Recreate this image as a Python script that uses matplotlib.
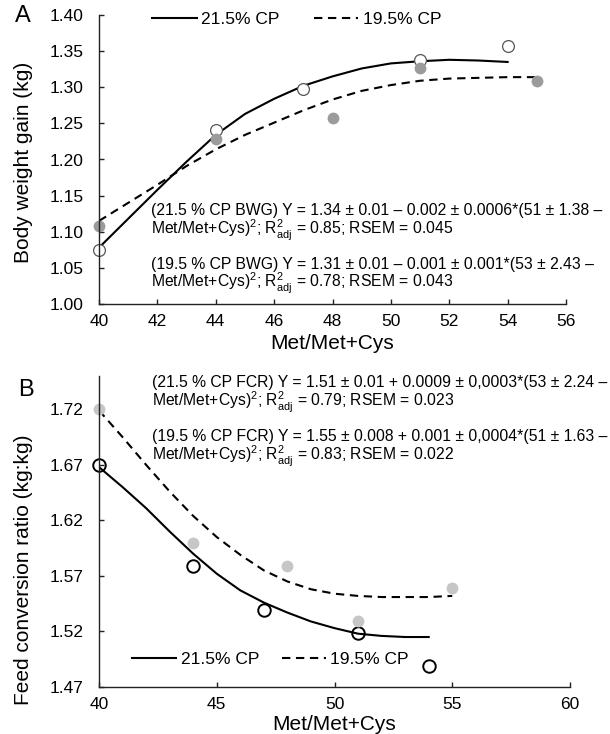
import matplotlib
matplotlib.use("Agg")
from matplotlib import pyplot as plt

plt.rcParams['font.family'] = ['Liberation Sans', 'DejaVu Sans']
plt.rcParams['mathtext.fontset'] = 'custom'
plt.rcParams['mathtext.rm'] = 'Liberation Sans'
plt.rcParams['mathtext.it'] = 'Liberation Sans:italic'

# Panel A - body weight gain
bwg_x_215 = [40, 44, 47, 51, 54]
bwg_y_215 = [1.075, 1.241, 1.297, 1.338, 1.357]
bwg_x_195 = [40, 44, 48, 51, 55]
bwg_y_195 = [1.108, 1.229, 1.258, 1.326, 1.308]
# fitted curves
bwg_fit_x_215 = [40, 41, 42, 43, 44, 45, 46, 47, 48, 49, 50, 51, 52, 53, 54]
bwg_fit_y_215 = [1.078, 1.118, 1.158, 1.197, 1.234, 1.263, 1.284, 1.302, 1.315,
                 1.326, 1.333, 1.336, 1.338, 1.337, 1.335]
bwg_fit_x_195 = [40, 41, 42, 43, 44, 45, 46, 47, 48, 49, 50, 51, 52, 53, 54, 55]
bwg_fit_y_195 = [1.115, 1.140, 1.165, 1.191, 1.214, 1.234, 1.251, 1.268, 1.283,
                 1.295, 1.303, 1.309, 1.312, 1.313, 1.314, 1.314]

# Panel B - feed conversion ratio
fcr_x_215 = [40, 44, 47, 51, 54]
fcr_y_215 = [1.670, 1.579, 1.539, 1.519, 1.489]
fcr_x_195 = [40, 44, 48, 51, 55]
fcr_y_195 = [1.720, 1.600, 1.579, 1.529, 1.559]
fcr_fit_x_215 = [40, 41, 42, 43, 44, 45, 46, 47, 48, 49, 50, 51, 52, 53, 54]
fcr_fit_y_215 = [1.668, 1.650, 1.631, 1.610, 1.590, 1.572, 1.557, 1.546, 1.537,
                 1.529, 1.523, 1.518, 1.516, 1.515, 1.515]
fcr_fit_x_195 = [40, 41, 42, 43, 44, 45, 46, 47, 48, 49, 50, 51, 52, 53, 54, 55]
fcr_fit_y_195 = [1.719, 1.695, 1.670, 1.646, 1.624, 1.605, 1.589, 1.575, 1.565,
                 1.558, 1.554, 1.552, 1.551, 1.551, 1.551, 1.552]

labels = ["21.5% CP", "19.5% CP"]

eq_bwg = [
    "(21.5 % CP BWG) Y = 1.34 \u00b1 0.01 \u2013 0.002 \u00b1 0.0006*(51 \u00b1 1.38 \u2013",
    r"Met/Met+Cys)$^2$; R$^2_{\mathrm{adj}}$ = 0.85; RSEM = 0.045",
    "(19.5 % CP BWG) Y = 1.31 \u00b1 0.01 \u2013 0.001 \u00b1 0.001*(53 \u00b1 2.43 \u2013",
    r"Met/Met+Cys)$^2$; R$^2_{\mathrm{adj}}$ = 0.78; RSEM = 0.043",
]
eq_fcr = [
    "(21.5 % CP FCR) Y = 1.51 \u00b1 0.01 + 0.0009 \u00b1 0,0003*(53 \u00b1 2.24 \u2013",
    r"Met/Met+Cys)$^2$; R$^2_{\mathrm{adj}}$ = 0.79; RSEM = 0.023",
    "(19.5 % CP FCR) Y = 1.55 \u00b1 0.008 + 0.001 \u00b1 0,0004*(51 \u00b1 1.63 \u2013",
    r"Met/Met+Cys)$^2$; R$^2_{\mathrm{adj}}$ = 0.83; RSEM = 0.022",
]

W, H = 610, 734
fig = plt.figure(figsize=(W / 100, H / 100), dpi=100)

def px_axes(l, t, r, b):
    return fig.add_axes([l / W, 1 - b / H, (r - l) / W, (b - t) / H])

def style(ax):
    for s in ['top', 'right']:
        ax.spines[s].set_visible(False)
    for s in ['left', 'bottom']:
        ax.spines[s].set_linewidth(1.0)
        ax.spines[s].set_color('#222222')
    ax.tick_params(axis='x', direction='in', length=3.5, width=1.0,
                   labelsize=12.5, pad=7, color='#222222')
    ax.tick_params(axis='y', direction='in', length=3.5, width=1.0,
                   labelsize=12.5, pad=11, color='#222222')

# ---- A ----
axA = px_axes(99, 15, 566, 304)
style(axA)
axA.plot(bwg_fit_x_215, bwg_fit_y_215, color='black', lw=1.5, label=labels[0])
axA.plot(bwg_fit_x_195, bwg_fit_y_195, color='black', lw=1.5, ls=(0, (4, 2.7)),
         label=labels[1])
axA.plot(bwg_x_215, bwg_y_215, 'o', ms=8.5, mfc='white', mec='#555555', mew=0.9,
         clip_on=False)
axA.plot(bwg_x_195, bwg_y_195, 'o', ms=8.5, mfc='#9b9b9b', mec='#9b9b9b', mew=0,
         clip_on=False)
axA.set_xlim(40, 56)
axA.set_ylim(1.00, 1.40)
axA.set_xticks(range(40, 57, 2))
axA.set_yticks([1.00 + 0.05 * i for i in range(9)])
axA.yaxis.set_major_formatter(matplotlib.ticker.FormatStrFormatter('%.2f'))
axA.set_xlabel("Met/Met+Cys", fontsize=15, labelpad=4)
axA.set_ylabel("Body weight gain (kg)", fontsize=15)
axA.yaxis.set_label_coords(-0.141, 0.49)
axA.legend(loc='center left', bbox_to_anchor=(0.114, 0.983), ncol=2, frameon=False,
           fontsize=12.5, handlelength=2.55, handletextpad=0.25, columnspacing=2.0,
           borderpad=0, borderaxespad=0)
fig.text(15 / W, 1 - 16 / H, "A", fontsize=17, va='center', ha='left')
for t, y in zip(eq_bwg, [211, 230, 264, 283]):
    fig.text(151 / W, 1 - y / H, t, fontsize=11.3, va='center', ha='left')

# ---- B ----
axB = px_axes(99, 376, 570, 687)
style(axB)
axB.plot(fcr_fit_x_215, fcr_fit_y_215, color='black', lw=1.5, label=labels[0])
axB.plot(fcr_fit_x_195, fcr_fit_y_195, color='black', lw=1.5, ls=(0, (4, 2.7)),
         label=labels[1])
axB.plot(fcr_x_215, fcr_y_215, 'o', ms=9, mfc='none', mec='black', mew=1.4,
         clip_on=False)
axB.plot(fcr_x_195, fcr_y_195, 'o', ms=8.5, mfc='#c6c6c6', mec='#c6c6c6', mew=0,
         clip_on=False)
axB.set_xlim(40, 60)
axB.set_ylim(1.47, 1.75)
axB.set_xticks(range(40, 61, 5))
axB.set_yticks([1.47 + 0.05 * i for i in range(6)])
axB.yaxis.set_major_formatter(matplotlib.ticker.FormatStrFormatter('%.2f'))
axB.set_xlabel("Met/Met+Cys", fontsize=15, labelpad=2.5)
axB.set_ylabel("Feed conversion ratio (kg:kg)", fontsize=15)
axB.yaxis.set_label_coords(-0.141, 0.376)
axB.legend(loc='center left', bbox_to_anchor=(0.070, 0.09), ncol=2, frameon=False,
           fontsize=12.5, handlelength=2.55, handletextpad=0.25, columnspacing=1.3,
           borderpad=0, borderaxespad=0)
fig.text(18 / W, 1 - 390 / H, "B", fontsize=17, va='center', ha='left')
for t, y in zip(eq_fcr, [383, 402, 437, 456]):
    fig.text(152 / W, 1 - y / H, t, fontsize=11.3, va='center', ha='left')

fig.savefig("out.png", dpi=100)
